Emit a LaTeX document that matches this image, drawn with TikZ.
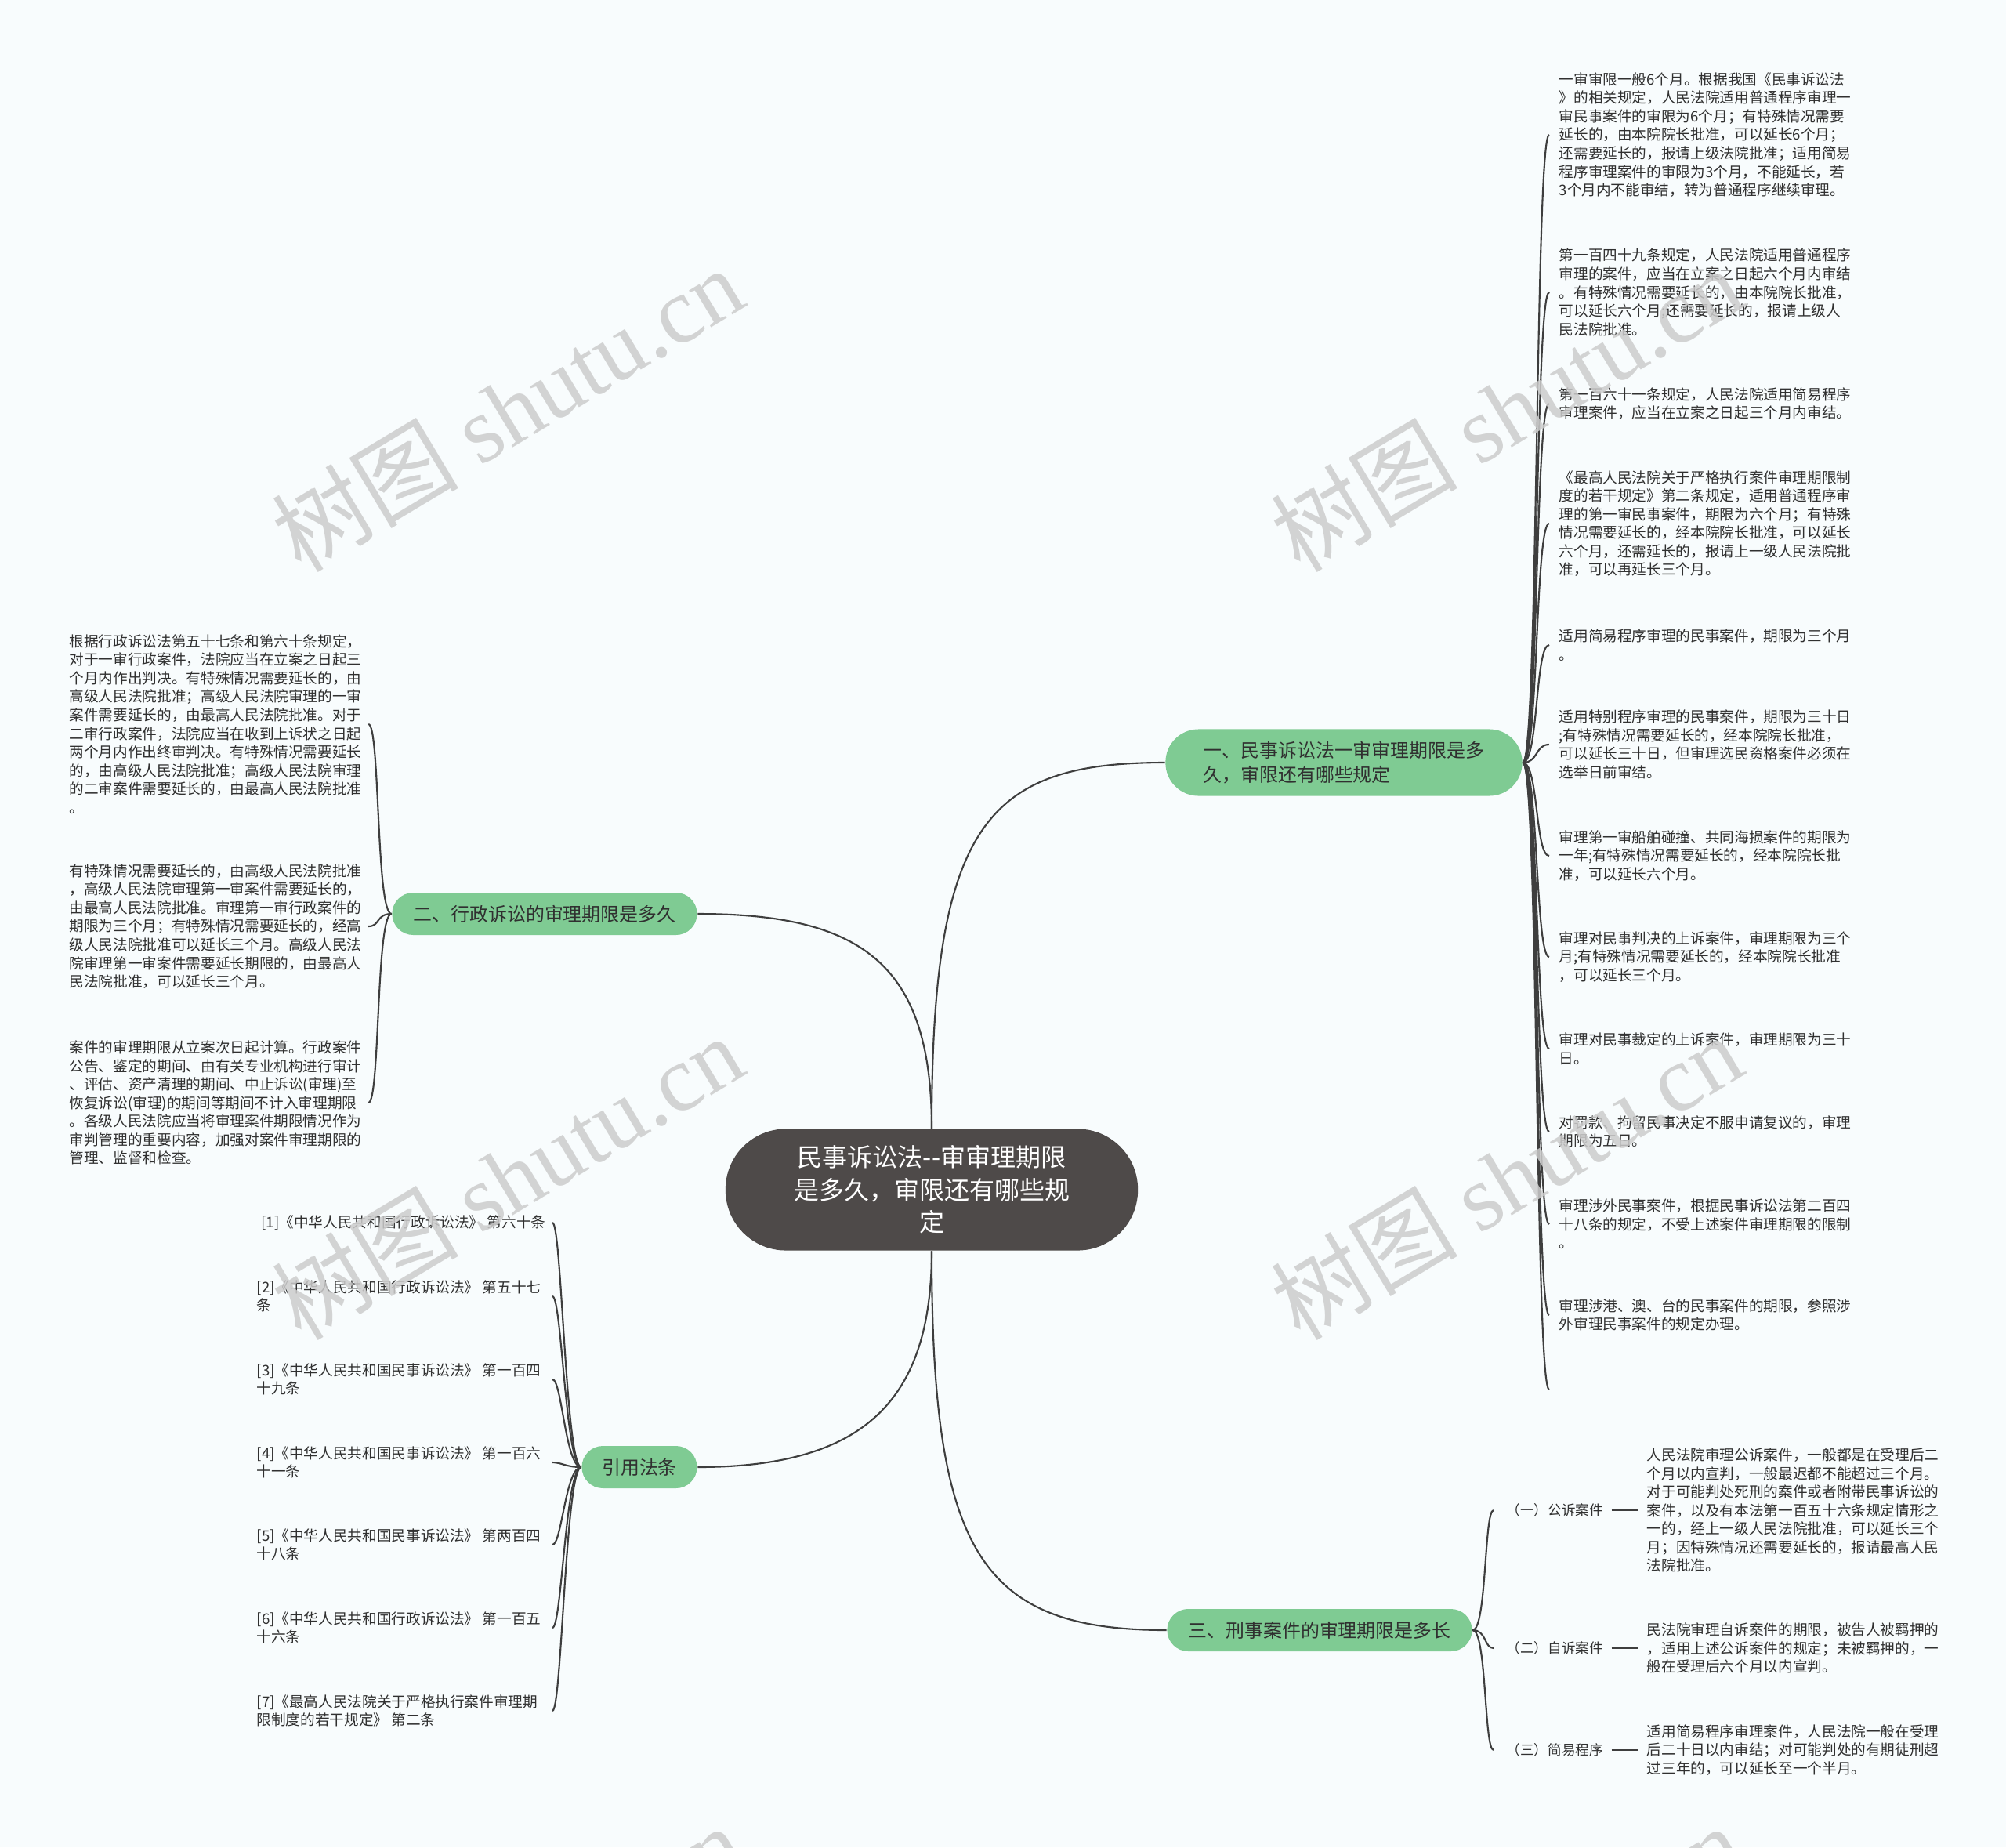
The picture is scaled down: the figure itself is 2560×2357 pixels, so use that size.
\documentclass[tikz,border=0pt]{standalone}
\usepackage{fontspec}
\setmainfont{Noto Sans CJK SC}
\newfontfamily\wmlatin{Liberation Serif}
\usetikzlibrary{positioning}

\definecolor{bgcol}{RGB}{248,252,253}
\definecolor{rootcol}{RGB}{78,74,73}
\definecolor{greencol}{RGB}{127,203,147}
\definecolor{linecol}{RGB}{62,62,62}
\definecolor{txtcol}{RGB}{48,48,48}
\definecolor{wmcol}{RGB}{204,204,204}

\tikzset{
  root/.style={rectangle, rounded corners=0.77cm, fill=rootcol, text=white,
               minimum width=5.26cm, minimum height=1.55cm,
               align=center, font=\fontsize{9.1}{11.8}\selectfont},
  topic/.style={rectangle, rounded corners=0.27cm, fill=greencol, text=txtcol,
                minimum height=0.54cm, align=left,
                font=\fontsize{6.8}{8.8}\selectfont},
  leaf/.style={align=left, text=txtcol, inner sep=0pt,
               font=\fontsize{5.3}{6.7}\selectfont},
  link/.style={draw=linecol, line width=0.6pt},
}

\begin{document}
\begin{tikzpicture}[x=0.01cm, y=-0.01cm,
  ref/.style={leaf, font=\fontsize{5.3}{6.7}\selectfont},
  sub/.style={leaf, anchor=west},
  kind/.style={leaf, anchor=west, font=\fontsize{5.0}{6.7}\selectfont},
  wmark/.style={text=wmcol, opacity=0.85, rotate=31,
                font=\fontsize{34}{34}\selectfont},
]

  \useasboundingbox (0,0) rectangle (2560,2357);
  \fill[bgcol] (0,0) rectangle (2560,2357);

  % centre and main topics
  \node[root] (root) at (1189,1518)
    {民事诉讼法-{}-审审理期限\\是多久，审限还有哪些规\\定};

  \node[topic, minimum width=4.55cm, minimum height=0.85cm,
        rounded corners=0.42cm] (civil) at (1715,973)
    {一、民事诉讼法一审审理期限是多\\久，审限还有哪些规定};
  \node[topic, minimum width=3.89cm] (admin) at (695,1166)
    {二、行政诉讼的审理期限是多久};
  \node[topic, minimum width=1.47cm] (cite) at (816,1872) {引用法条};
  \node[topic, minimum width=3.89cm] (crim) at (1684,2080)
    {三、刑事案件的审理期限是多长};

  \draw[link] (root.north) .. controls (1189,1050) and (1260,973) .. (civil.west);
  \draw[link] (root.north) .. controls (1189,1230) and (1100,1166) .. (admin.east);
  \draw[link] (root.south) .. controls (1189,1790) and (1100,1872) .. (cite.east);
  \draw[link] (root.south) .. controls (1189,1980) and (1250,2080) .. (crim.west);

  % civil procedure
  \node[sub] (r1) at (1989,172)
    {一审审限一般6个月。根据我国《民事诉讼法\\》的相关规定，人民法院适用普通程序审理一\\审民事案件的审限为6个月；有特殊情况需要\\延长的，由本院院长批准，可以延长6个月；\\还需要延长的，报请上级法院批准；适用简易\\程序审理案件的审限为3个月，不能延长，若\\3个月内不能审结，转为普通程序继续审理。};
  \node[sub] (r2) at (1989,373)
    {第一百四十九条规定，人民法院适用普通程序\\审理的案件，应当在立案之日起六个月内审结\\。有特殊情况需要延长的，由本院院长批准，\\可以延长六个月;还需要延长的，报请上级人\\民法院批准。};
  \node[sub] (r3) at (1989,515)
    {第一百六十一条规定，人民法院适用简易程序\\审理案件，应当在立案之日起三个月内审结。};
  \node[sub] (r4) at (1989,668)
    {《最高人民法院关于严格执行案件审理期限制\\度的若干规定》第二条规定，适用普通程序审\\理的第一审民事案件，期限为六个月；有特殊\\情况需要延长的，经本院院长批准，可以延长\\六个月，还需延长的，报请上一级人民法院批\\准，可以再延长三个月。};
  \node[sub] (r5) at (1989,823)
    {适用简易程序审理的民事案件，期限为三个月\\。};
  \node[sub] (r6) at (1989,950)
    {适用特别程序审理的民事案件，期限为三十日\\;有特殊情况需要延长的，经本院院长批准，\\可以延长三十日，但审理选民资格案件必须在\\选举日前审结。};
  \node[sub] (r7) at (1989,1092)
    {审理第一审船舶碰撞、共同海损案件的期限为\\一年;有特殊情况需要延长的，经本院院长批\\准，可以延长六个月。};
  \node[sub] (r8) at (1989,1221)
    {审理对民事判决的上诉案件，审理期限为三个\\月;有特殊情况需要延长的，经本院院长批准\\，可以延长三个月。};
  \node[sub] (r9) at (1989,1338)
    {审理对民事裁定的上诉案件，审理期限为三十\\日。};
  \node[sub] (r10) at (1989,1444)
    {对罚款、拘留民事决定不服申请复议的，审理\\期限为五日。};
  \node[sub] (r11) at (1989,1562)
    {审理涉外民事案件，根据民事诉讼法第二百四\\十八条的规定，不受上述案件审理期限的限制\\。};
  \node[sub] (r12) at (1989,1678)
    {审理涉港、澳、台的民事案件的期限，参照涉\\外审理民事案件的规定办理。};
  \coordinate (r13) at (1989,1773);

  \foreach \i in {1,...,13}
    \draw[link] (civil.east) .. controls +(20,0) and +(-18,0) .. ([xshift=-0.12cm]r\i.west);

  % administrative procedure
  \node[sub] (l1) at (88,924)
    {根据行政诉讼法第五十七条和第六十条规定，\\对于一审行政案件，法院应当在立案之日起三\\个月内作出判决。有特殊情况需要延长的，由\\高级人民法院批准；高级人民法院审理的一审\\案件需要延长的，由最高人民法院批准。对于\\二审行政案件，法院应当在收到上诉状之日起\\两个月内作出终审判决。有特殊情况需要延长\\的，由高级人民法院批准；高级人民法院审理\\的二审案件需要延长的，由最高人民法院批准\\。};
  \node[sub] (l2) at (88,1182)
    {有特殊情况需要延长的，由高级人民法院批准\\，高级人民法院审理第一审案件需要延长的，\\由最高人民法院批准。审理第一审行政案件的\\期限为三个月；有特殊情况需要延长的，经高\\级人民法院批准可以延长三个月。高级人民法\\院审理第一审案件需要延长期限的，由最高人\\民法院批准，可以延长三个月。};
  \node[sub] (l3) at (88,1407)
    {案件的审理期限从立案次日起计算。行政案件\\公告、鉴定的期间、由有关专业机构进行审计\\、评估、资产清理的期间、中止诉讼(审理)至\\恢复诉讼(审理)的期间等期间不计入审理期限\\。各级人民法院应当将审理案件期限情况作为\\审判管理的重要内容，加强对案件审理期限的\\管理、监督和检查。};

  \foreach \i in {1,2,3}
    \draw[link] (admin.west) .. controls +(-20,0) and +(15,0) .. ([xshift=0.08cm]l\i.east);

  % cited articles
  \coordinate (citeend) at (705,0);
  \node[ref, anchor=east] (c1) at (697,1560)
    {[1]《中华人民共和国行政诉讼法》 第六十条};
  \node[ref, anchor=west] (c2) at (327,1654)
    {[2]《中华人民共和国行政诉讼法》 第五十七\\条};
  \node[ref, anchor=west] (c3) at (327,1760)
    {[3]《中华人民共和国民事诉讼法》 第一百四\\十九条};
  \node[ref, anchor=west] (c4) at (327,1866)
    {[4]《中华人民共和国民事诉讼法》 第一百六\\十一条};
  \node[ref, anchor=west] (c5) at (327,1971)
    {[5]《中华人民共和国民事诉讼法》 第两百四\\十八条};
  \node[ref, anchor=west] (c6) at (327,2077)
    {[6]《中华人民共和国行政诉讼法》 第一百五\\十六条};
  \node[ref, anchor=west] (c7) at (327,2183)
    {[7]《最高人民法院关于严格执行案件审理期\\限制度的若干规定》 第二条};

  \foreach \i in {1,...,7}
    \draw[link] (cite.west) .. controls +(-20,0) and +(12,0) .. (c\i.west -| citeend);

  % criminal cases
  \node[kind] (s1) at (1922,1927) {（一）公诉案件};
  \node[kind] (s2) at (1922,2103) {（二）自诉案件};
  \node[kind] (s3) at (1922,2233) {（三）简易程序};

  \node[sub] (t1) at (2101,1927)
    {人民法院审理公诉案件，一般都是在受理后二\\个月以内宣判，一般最迟都不能超过三个月。\\对于可能判处死刑的案件或者附带民事诉讼的\\案件，以及有本法第一百五十六条规定情形之\\一的，经上一级人民法院批准，可以延长三个\\月；因特殊情况还需要延长的，报请最高人民\\法院批准。};
  \node[sub] (t2) at (2101,2103)
    {民法院审理自诉案件的期限，被告人被羁押的\\，适用上述公诉案件的规定；未被羁押的，一\\般在受理后六个月以内宣判。};
  \node[sub] (t3) at (2101,2233)
    {适用简易程序审理案件，人民法院一般在受理\\后二十日以内审结；对可能判处的有期徒刑超\\过三年的，可以延长至一个半月。};

  \foreach \i in {1,2,3} {
    \draw[link] (crim.east) .. controls +(18,0) and +(-12,0) .. ([xshift=-0.16cm]s\i.west);
    \draw[link] ([xshift=0.1cm]s\i.east) -- ([xshift=-0.1cm]t\i.west);
  }

  % watermark
  \foreach \wx/\wy [count=\k] in {647/522, 1922/522, 647/1502, 1922/1502, 647/2510, 1922/2510}
    \node[wmark] (wm\k) at (\wx,\wy) {树图 {\wmlatin shutu.cn}};

\end{tikzpicture}
\end{document}
